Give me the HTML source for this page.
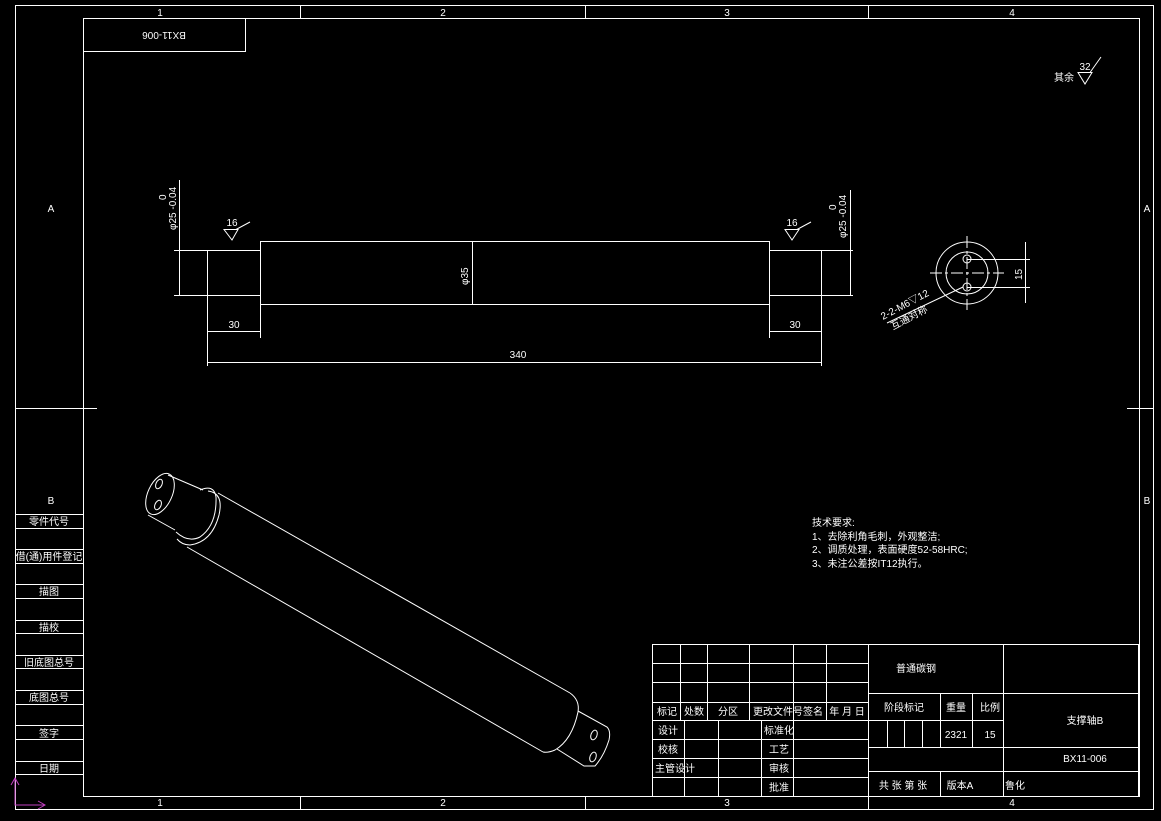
<!DOCTYPE html>
<html><head><meta charset="utf-8"><style>
html,body{margin:0;padding:0;background:#000;}
svg{display:block}
text{fill:#fff;font-family:"Liberation Sans","Noto Sans CJK SC",sans-serif;font-size:10px}
</style></head><body>
<svg width="1161" height="821" viewBox="0 0 1161 821" xmlns="http://www.w3.org/2000/svg">
<g stroke="#fff" stroke-width="1" fill="none">
<rect x="15.5" y="5.5" width="1138" height="804"/>
<rect x="83.5" y="18.5" width="1056" height="778"/>
<rect x="83.5" y="18.5" width="162" height="33"/>
<path d="M300.5 5V18 M585.5 5V18 M868.5 5V18 M300.5 796V809 M585.5 796V809 M868.5 796V809 M15 408.5H97 M1127 408.5H1153"/>
<path d="M15.5 408V796"/>
<path d="M15 514.5H83 M15 528.5H83 M15 549.5H83 M15 563.5H83 M15 584.5H83 M15 598.5H83 M15 620.5H83 M15 633.5H83 M15 655.5H83 M15 668.5H83 M15 690.5H83 M15 704.5H83 M15 725.5H83 M15 739.5H83 M15 761.5H83 M15 774.5H83"/>
<rect x="207.5" y="250.5" width="53" height="45"/>
<rect x="260.5" y="241.5" width="509" height="63"/>
<rect x="769.5" y="250.5" width="52" height="45"/>
<path d="M174 250.5H207 M174 295.5H207 M821 250.5H853 M821 295.5H853"/>
<path d="M179.5 180V295 M850.5 190V295 M472.5 241V304"/>
<path d="M207.5 296V366 M260.5 305V338 M769.5 305V338 M821.5 296V366"/>
<path d="M207 331.5H260 M769 331.5H821 M207 362.5H821"/>
<path d="M224 229.5H238 L232 240 Z M236 229.5 L250 222"/>
<path d="M785 229.5H799 L792 240 Z M797 229.5 L811 222"/>
<path d="M1078 72.5H1092 L1085 84 Z M1090 72.5 L1101 57"/>
<circle cx="967" cy="273" r="31"/>
<circle cx="967" cy="273" r="21"/>
<circle cx="967" cy="259" r="4"/>
<circle cx="967" cy="287" r="4"/>
<path d="M967 236V310 M930 273H1004" stroke-dasharray="12,3,3,3"/>
<path d="M967 259.5H1030 M967 287.5H1030 M1025.5 242V303"/>
<path d="M887 323 L963 287"/>
<ellipse cx="160" cy="494" rx="12" ry="22" transform="rotate(25 160 494)"/>
<ellipse cx="159" cy="484" rx="3" ry="5" transform="rotate(25 159 484)"/>
<ellipse cx="158" cy="505" rx="3" ry="5" transform="rotate(25 158 505)"/>
<path d="M168 475 L203 490 M148 515 L175 530"/>
<path d="M200 490 Q214 484 216 497 Q217 525 200 537 Q188 543 176 532 M208 491 Q224 493 219 515 Q212 542 190 545 Q182 545 177 539"/>
<path d="M218 493 L570 693 M187 547 L543 752"/>
<path d="M570 693 Q580 700 578 712 Q572 740 555 750 Q548 753 543 752"/>
<path d="M578 711 L607 727 Q611 731 609 740 Q604 756 595 766 L584 766 L557 749"/>
<ellipse cx="594" cy="735" rx="3" ry="5" transform="rotate(20 594 735)"/>
<ellipse cx="593" cy="757" rx="3" ry="5" transform="rotate(20 593 757)"/>
<rect x="652.5" y="644.5" width="486" height="152"/>
<path d="M652 663.5H868 M652 682.5H868 M652 702.5H868 M652 720.5H1003 M652 739.5H868 M652 758.5H868 M652 777.5H868"/>
<path d="M680.5 644V720 M707.5 644V720 M749.5 644V720 M793.5 644V796 M826.5 644V720 M684.5 720V796 M718.5 720V796 M761.5 720V796 M868.5 644V796"/>
<path d="M868 693.5H1138 M868 747.5H1138 M868 771.5H1138 M1003.5 644V796 M940.5 693V747 M972.5 693V747 M887.5 720V747 M904.5 720V747 M922.5 720V747 M940.5 771V796"/>
<path d="M15 778V805H45 M11 785L15 778L19 785 M38 801L45 805L38 809" stroke="#c040c0"/>
</g>
<g>
<text x="164" y="38" transform="rotate(180 164 35)" text-anchor="middle">BX11-006</text>
<text x="160" y="16" text-anchor="middle">1</text><text x="443" y="16" text-anchor="middle">2</text><text x="727" y="16" text-anchor="middle">3</text><text x="1012" y="16" text-anchor="middle">4</text>
<text x="160" y="806" text-anchor="middle">1</text><text x="443" y="806" text-anchor="middle">2</text><text x="727" y="806" text-anchor="middle">3</text><text x="1012" y="806" text-anchor="middle">4</text>
<text x="51" y="212" text-anchor="middle">A</text><text x="1147" y="212" text-anchor="middle">A</text>
<text x="51" y="504" text-anchor="middle">B</text><text x="1147" y="504" text-anchor="middle">B</text>
<g text-anchor="middle">
<text x="49" y="525">零件代号</text><text x="49" y="560" font-size="9">借(通)用件登记</text><text x="49" y="595">描图</text><text x="49" y="631">描校</text><text x="49" y="666">旧底图总号</text><text x="49" y="701">底图总号</text><text x="49" y="737">签字</text><text x="49" y="772">日期</text>
</g>
<text x="232" y="226" text-anchor="middle">16</text><text x="792" y="226" text-anchor="middle">16</text>
<text x="1085" y="70" text-anchor="middle">32</text><text x="1064" y="81" text-anchor="middle">其余</text>
<text x="234" y="328" text-anchor="middle">30</text><text x="795" y="328" text-anchor="middle">30</text><text x="518" y="358" text-anchor="middle">340</text>
<text transform="translate(176 230) rotate(-90)">φ25 -0.04</text><text transform="translate(166 200) rotate(-90)" font-size="9">0</text>
<text transform="translate(846 238) rotate(-90)">φ25 -0.04</text><text transform="translate(836 210) rotate(-90)" font-size="9">0</text>
<text transform="translate(468 285) rotate(-90)">φ35</text>
<text transform="translate(1022 280) rotate(-90)">15</text>
<text transform="translate(883 320) rotate(-28)" font-size="9">2-2-M6▽12</text>
<text transform="translate(893 330) rotate(-28)" font-size="9">互通对称</text>
<text x="812" y="526">技术要求:</text><text x="812" y="540">1、去除利角毛刺，外观整洁;</text><text x="812" y="553">2、调质处理，表面硬度52-58HRC;</text><text x="812" y="567">3、未注公差按IT12执行。</text>
<g text-anchor="middle">
<text x="916" y="672">普通碳钢</text><text x="904" y="711">阶段标记</text><text x="956" y="711">重量</text><text x="990" y="711">比例</text>
<text x="956" y="738">2321</text><text x="990" y="738">15</text><text x="1085" y="724">支撑轴B</text><text x="1085" y="762">BX11-006</text>
<text x="903" y="789">共 张  第 张</text><text x="960" y="789">版本A</text><text x="1015" y="789">鲁化</text>
<text x="667" y="715">标记</text><text x="694" y="715">处数</text><text x="728" y="715">分区</text><text x="788" y="715" font-size="9">更改文件号签名</text><text x="847" y="715" font-size="9">年 月 日</text>
<text x="668" y="734">设计</text><text x="779" y="734">标准化</text><text x="668" y="753">校核</text><text x="779" y="753">工艺</text>
<text x="675" y="772">主管设计</text><text x="779" y="772">审核</text><text x="779" y="791">批准</text>
</g>
</g>
</svg>
</body></html>
